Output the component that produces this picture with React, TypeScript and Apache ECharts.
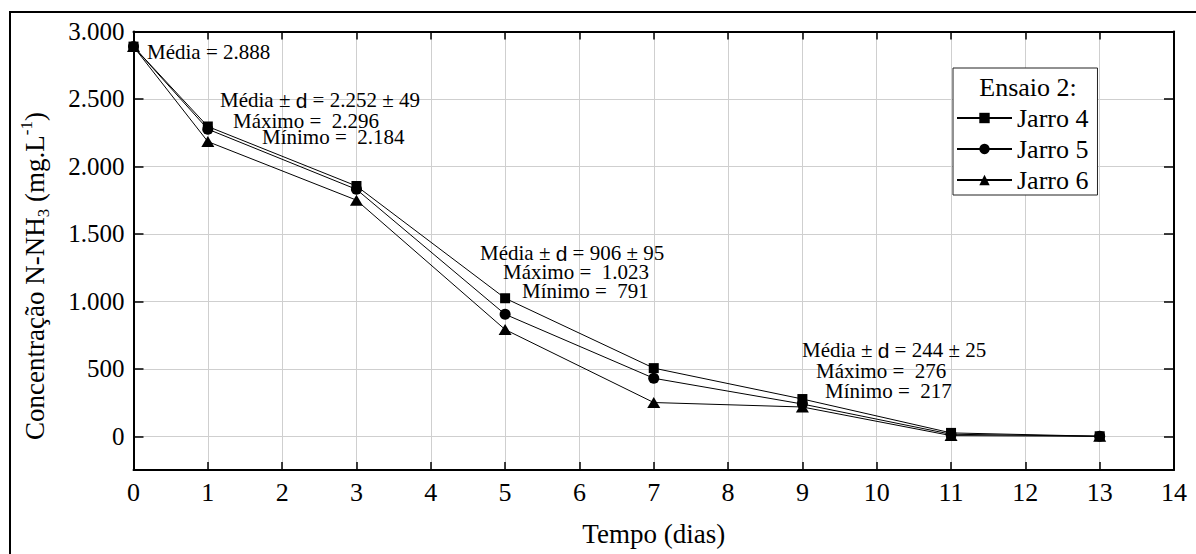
import React, { useEffect, useRef } from 'react';
import * as echarts from 'echarts';

// ---------- data ----------
const days = [0, 1, 3, 5, 7, 9, 11, 13];
const jarro4 = [2888, 2296, 1855, 1023, 505, 276, 25, 0];
const jarro5 = [2888, 2276, 1830, 904, 430, 239, 15, 0];
const jarro6 = [2888, 2184, 1750, 791, 250, 217, 5, 0];
const seriesNames = ['Jarro 4', 'Jarro 5', 'Jarro 6'];
const legendTitle = 'Ensaio 2:';
const xTitle = 'Tempo (dias)';
const yTitleParts = ['Concentração N-NH', '3', ' (mg.L', '-1', ')'];

// annotation texts (group per day)
const annotationDay0 = ['Média = 2.888'];
const annotationDay1 = ['Média ± |d| = 2.252 ± 49', 'Máximo =  2.296', 'Mínimo =  2.184'];
const annotationDay5 = ['Média ± |d| = 906 ± 95', 'Máximo =  1.023', 'Mínimo =  791'];
const annotationDay9 = ['Média ± |d| = 244 ± 25', 'Máximo =  276', 'Mínimo =  217'];

const SERIF = 'Liberation Serif';
const SANS = 'Liberation Sans';

function fmtThousands(v: number): string {
  if (v < 0) return '';
  const n = Math.round(v);
  if (n >= 1000) {
    const th = Math.floor(n / 1000);
    const rest = n % 1000;
    return th + '.' + String(rest).padStart(3, '0');
  }
  return String(n);
}

function toRich(s: string): string {
  const parts = s.split('|');
  return parts
    .map((p, i) => (p.length === 0 ? '' : i % 2 === 1 ? `{s|${p}}` : `{t|${p}}`))
    .join('');
}

export default function App() {
  const ref = useRef<HTMLDivElement>(null);

  useEffect(() => {
    if (!ref.current) return;
    const chart = echarts.init(ref.current, undefined, { renderer: 'svg' });

    const annRich = {
      t: { fontFamily: SERIF, fontSize: 21, color: '#000' },
      s: { fontFamily: SANS, fontSize: 21, color: '#000' },
    };

    const annLayout: Array<[string[], Array<[number, number]>]> = [
      [annotationDay0, [[147, 52]]],
      [annotationDay1, [[220, 100], [233, 121], [262, 137]]],
      [annotationDay5, [[480, 253], [503, 272], [522, 291]]],
      [annotationDay9, [[802, 350], [816, 371], [825, 391]]],
    ];

    const annGraphics: any[] = [];
    annLayout.forEach(([texts, pos]) => {
      texts.forEach((t, i) => {
        annGraphics.push({
          type: 'text',
          x: pos[i][0],
          y: pos[i][1],
          z: 50,
          style: {
            text: toRich(t),
            rich: annRich,
            fontFamily: SERIF,
            fontSize: 21,
            align: 'left',
            verticalAlign: 'middle',
            textAlign: 'left',
            textVerticalAlign: 'middle',
            fill: '#000',
          },
        });
      });
    });

    const yTitleRich = `{a|${yTitleParts[0]}}{b|${yTitleParts[1]}}{a|${yTitleParts[2]}}{c|${yTitleParts[3]}}{a|${yTitleParts[4]}}`;

    const axisLineStyle = { color: '#000', width: 2 };
    const tickStyle = { color: '#000', width: 1.5 };
    const gridColor = '#cfcfcf';

    const mk = (vals: number[]) => days.map((d, i) => [d, vals[i]]);

    const option: any = {
      animation: false,
      backgroundColor: '#fff',
      textStyle: { fontFamily: SERIF },
      grid: { left: 133.5, right: 22, top: 31.5, bottom: 84, containLabel: false },
      xAxis: [
        {
          type: 'value',
          min: 0,
          max: 14,
          interval: 1,
          position: 'bottom',
          name: xTitle,
          nameLocation: 'middle',
          nameGap: 50,
          nameTextStyle: { fontFamily: SERIF, fontSize: 27, color: '#000' },
          axisLine: { show: true, onZero: false, lineStyle: axisLineStyle },
          axisTick: { show: true, inside: true, length: 8, lineStyle: tickStyle },
          axisLabel: { fontFamily: SERIF, fontSize: 26, color: '#000', margin: 9 },
          splitLine: { show: true, lineStyle: { color: gridColor, width: 1 } },
        },
        {
          type: 'value',
          min: 0,
          max: 14,
          interval: 1,
          position: 'top',
          axisLine: { show: true, onZero: false, lineStyle: axisLineStyle },
          axisTick: { show: true, inside: true, length: 8, lineStyle: tickStyle },
          axisLabel: { show: false },
          splitLine: { show: false },
        },
      ],
      yAxis: [
        {
          type: 'value',
          min: -250,
          max: 3000,
          splitNumber: 6,
          minInterval: 500,
          maxInterval: 500,
          position: 'left',
          axisLine: { show: true, onZero: false, lineStyle: axisLineStyle },
          axisTick: { show: true, inside: true, length: 10, lineStyle: tickStyle },
          axisLabel: {
            fontFamily: SERIF,
            fontSize: 25,
            color: '#000',
            margin: 9,
            formatter: (v: number) => fmtThousands(v),
          },
          splitLine: { show: true, lineStyle: { color: gridColor, width: 1 } },
        },
        {
          type: 'value',
          min: -250,
          max: 3000,
          splitNumber: 6,
          minInterval: 500,
          maxInterval: 500,
          position: 'right',
          axisLine: { show: true, onZero: false, lineStyle: axisLineStyle },
          axisTick: { show: true, inside: true, length: 10, lineStyle: tickStyle },
          axisLabel: { show: false },
          splitLine: { show: false },
        },
      ],
      legend: {
        orient: 'vertical',
        left: 953,
        top: 68,
        data: seriesNames,
        itemWidth: 55,
        itemHeight: 13,
        itemGap: 5,
        padding: [37, 9, 2, 3],
        borderColor: '#222',
        borderWidth: 1,
        backgroundColor: '#fff',
        selectedMode: false,
        textStyle: { fontFamily: SERIF, fontSize: 26, color: '#000', lineHeight: 26 },
      },
      series: [
        {
          name: seriesNames[0],
          type: 'line',
          xAxisIndex: 0,
          yAxisIndex: 0,
          data: mk(jarro4),
          symbol: 'rect',
          symbolSize: 10,
          lineStyle: { color: '#000', width: 1 },
          itemStyle: { color: '#000' },
          z: 5,
        },
        {
          name: seriesNames[1],
          type: 'line',
          xAxisIndex: 0,
          yAxisIndex: 0,
          data: mk(jarro5),
          symbol: 'circle',
          symbolSize: 11,
          lineStyle: { color: '#000', width: 1 },
          itemStyle: { color: '#000' },
          z: 4,
        },
        {
          name: seriesNames[2],
          type: 'line',
          xAxisIndex: 0,
          yAxisIndex: 0,
          data: mk(jarro6),
          symbol: 'triangle',
          symbolSize: [13, 11],
          lineStyle: { color: '#000', width: 1 },
          itemStyle: { color: '#000' },
          z: 3,
        },
      ],
      graphic: [
        {
          type: 'rect',
          z: -10,
          shape: { x: 10, y: 12, width: 1400, height: 800 },
          style: { fill: 'none', stroke: '#000', lineWidth: 2 },
          silent: true,
        },
        {
          type: 'text',
          x: 1028,
          y: 87,
          z: 100,
          style: {
            text: legendTitle,
            fontFamily: SERIF,
            fontSize: 26,
            fill: '#000',
            align: 'center',
            verticalAlign: 'middle',
            textAlign: 'center',
            textVerticalAlign: 'middle',
          },
        },
        {
          type: 'text',
          x: 35,
          y: 276,
          rotation: Math.PI / 2,
          style: {
            text: yTitleRich,
            fontFamily: SERIF,
            fontSize: 27,
            align: 'center',
            verticalAlign: 'middle',
            textAlign: 'center',
            textVerticalAlign: 'middle',
            fill: '#000',
            rich: {
              a: { fontFamily: SERIF, fontSize: 27, lineHeight: 34, color: '#000', verticalAlign: 'middle' },
              b: { fontFamily: SERIF, fontSize: 17, lineHeight: 17, color: '#000', verticalAlign: 'bottom' },
              c: { fontFamily: SERIF, fontSize: 17, lineHeight: 17, color: '#000', verticalAlign: 'top' },
            },
          },
        },
        ...annGraphics,
      ],
    };

    chart.setOption(option);
    return () => {
      chart.dispose();
    };
  }, []);

  return (
    <div
      ref={ref}
      style={{ position: 'fixed', left: 0, top: 0, width: 1196, height: 554, background: '#fff' }}
    />
  );
}
